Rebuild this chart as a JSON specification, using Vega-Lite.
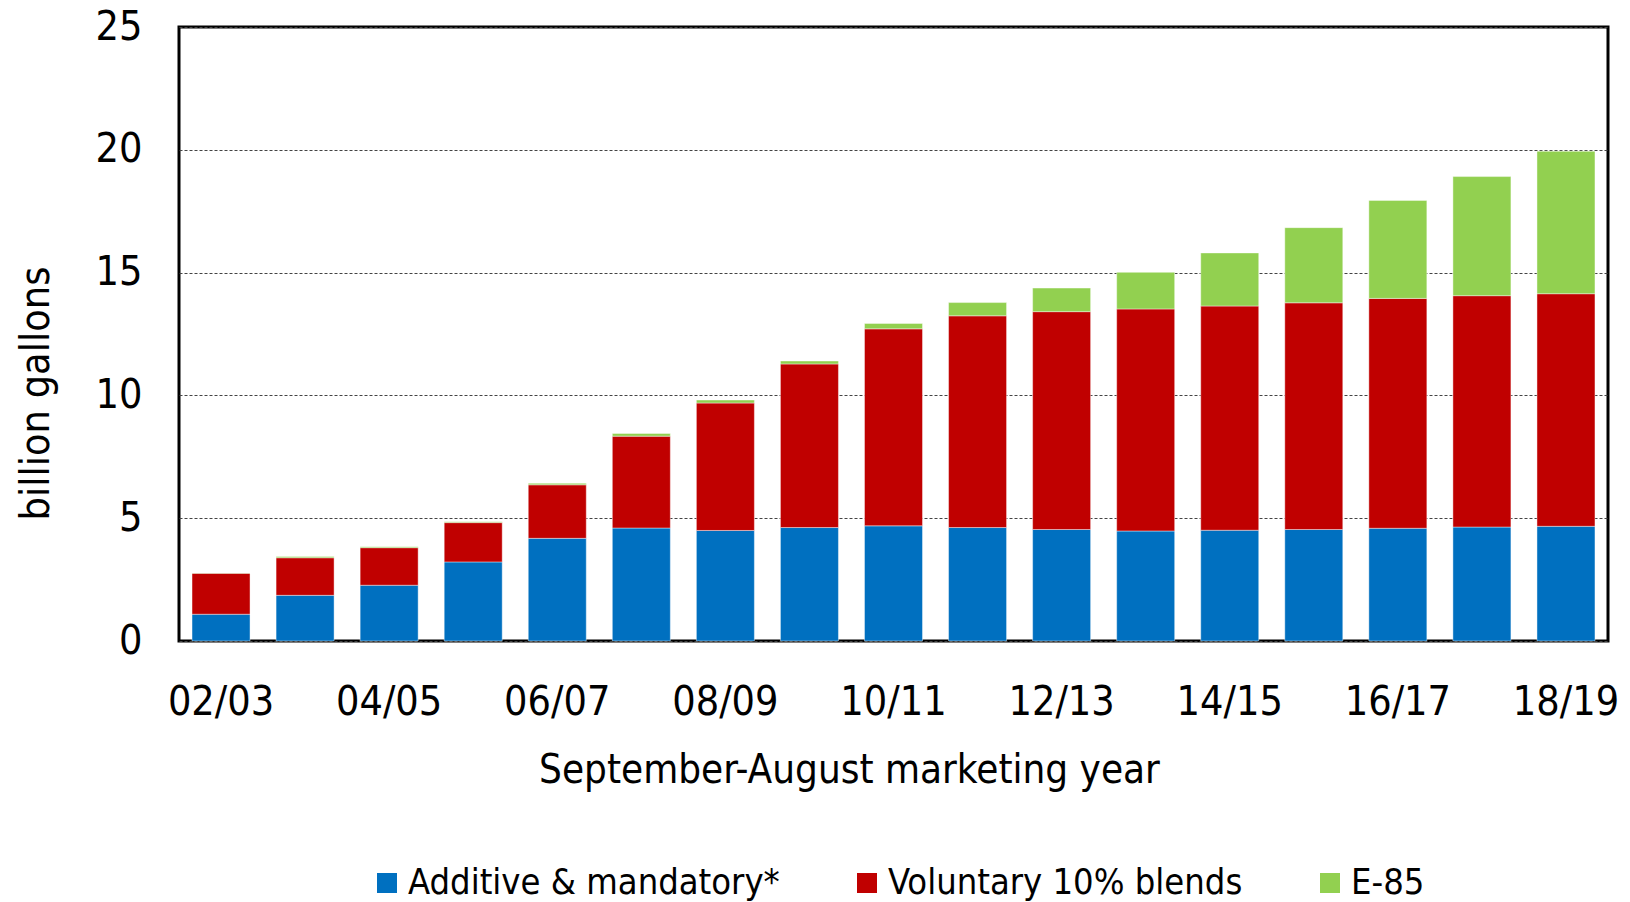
{
  "$schema": "https://vega.github.io/schema/vega-lite/v6.json",
  "autosize": {"type": "none"},
  "padding": {"left": 179, "top": 27, "right": 22, "bottom": 261},
  "width": 1429,
  "height": 614,
  "background": "white",
  "config": {
    "font": "DejaVu Sans Condensed",
    "view": {"stroke": "black", "strokeWidth": 3}
  },
  "data": {
    "values": [
      {"year": "02/03", "type": "Additive & mandatory*", "value": 1.09},
      {"year": "02/03", "type": "Voluntary 10% blends", "value": 1.67},
      {"year": "02/03", "type": "E-85", "value": 0.01},
      {"year": "03/04", "type": "Additive & mandatory*", "value": 1.86},
      {"year": "03/04", "type": "Voluntary 10% blends", "value": 1.53},
      {"year": "03/04", "type": "E-85", "value": 0.05},
      {"year": "04/05", "type": "Additive & mandatory*", "value": 2.27},
      {"year": "04/05", "type": "Voluntary 10% blends", "value": 1.53},
      {"year": "04/05", "type": "E-85", "value": 0.04},
      {"year": "05/06", "type": "Additive & mandatory*", "value": 3.22},
      {"year": "05/06", "type": "Voluntary 10% blends", "value": 1.6},
      {"year": "05/06", "type": "E-85", "value": 0.04},
      {"year": "06/07", "type": "Additive & mandatory*", "value": 4.18},
      {"year": "06/07", "type": "Voluntary 10% blends", "value": 2.18},
      {"year": "06/07", "type": "E-85", "value": 0.06},
      {"year": "07/08", "type": "Additive & mandatory*", "value": 4.6},
      {"year": "07/08", "type": "Voluntary 10% blends", "value": 3.74},
      {"year": "07/08", "type": "E-85", "value": 0.11},
      {"year": "08/09", "type": "Additive & mandatory*", "value": 4.5},
      {"year": "08/09", "type": "Voluntary 10% blends", "value": 5.19},
      {"year": "08/09", "type": "E-85", "value": 0.12},
      {"year": "09/10", "type": "Additive & mandatory*", "value": 4.62},
      {"year": "09/10", "type": "Voluntary 10% blends", "value": 6.66},
      {"year": "09/10", "type": "E-85", "value": 0.12},
      {"year": "10/11", "type": "Additive & mandatory*", "value": 4.69},
      {"year": "10/11", "type": "Voluntary 10% blends", "value": 8.02},
      {"year": "10/11", "type": "E-85", "value": 0.22},
      {"year": "11/12", "type": "Additive & mandatory*", "value": 4.62},
      {"year": "11/12", "type": "Voluntary 10% blends", "value": 8.62},
      {"year": "11/12", "type": "E-85", "value": 0.54},
      {"year": "12/13", "type": "Additive & mandatory*", "value": 4.54},
      {"year": "12/13", "type": "Voluntary 10% blends", "value": 8.87},
      {"year": "12/13", "type": "E-85", "value": 0.96},
      {"year": "13/14", "type": "Additive & mandatory*", "value": 4.48},
      {"year": "13/14", "type": "Voluntary 10% blends", "value": 9.04},
      {"year": "13/14", "type": "E-85", "value": 1.49},
      {"year": "14/15", "type": "Additive & mandatory*", "value": 4.51},
      {"year": "14/15", "type": "Voluntary 10% blends", "value": 9.13},
      {"year": "14/15", "type": "E-85", "value": 2.16},
      {"year": "15/16", "type": "Additive & mandatory*", "value": 4.54},
      {"year": "15/16", "type": "Voluntary 10% blends", "value": 9.23},
      {"year": "15/16", "type": "E-85", "value": 3.06},
      {"year": "16/17", "type": "Additive & mandatory*", "value": 4.59},
      {"year": "16/17", "type": "Voluntary 10% blends", "value": 9.36},
      {"year": "16/17", "type": "E-85", "value": 3.99},
      {"year": "17/18", "type": "Additive & mandatory*", "value": 4.64},
      {"year": "17/18", "type": "Voluntary 10% blends", "value": 9.42},
      {"year": "17/18", "type": "E-85", "value": 4.85},
      {"year": "18/19", "type": "Additive & mandatory*", "value": 4.67},
      {"year": "18/19", "type": "Voluntary 10% blends", "value": 9.47},
      {"year": "18/19", "type": "E-85", "value": 5.8}
    ]
  },
  "transform": [
    {"calculate": "datum.type === 'Additive & mandatory*' ? 0 : (datum.type === 'Voluntary 10% blends' ? 1 : 2)", "as": "ord"}
  ],
  "mark": {"type": "bar", "stroke": "white", "strokeWidth": 0.6, "strokeOpacity": 0.7},
  "encoding": {
    "x": {
      "field": "year",
      "type": "nominal",
      "sort": null,
      "scale": {"paddingInner": 0.31, "paddingOuter": 0.155},
      "axis": {
        "title": "September-August marketing year",
        "titleFontSize": 40,
        "titleFontWeight": "normal",
        "titleColor": "black",
        "titlePadding": 28,
        "titleX": 670,
        "titleAlign": "center",
        "labelAngle": 0,
        "labelFontSize": 41,
        "labelColor": "black",
        "labelPadding": 41,
        "ticks": false,
        "domain": false,
        "values": ["02/03", "04/05", "06/07", "08/09", "10/11", "12/13", "14/15", "16/17", "18/19"]
      }
    },
    "y": {
      "field": "value",
      "type": "quantitative",
      "stack": "zero",
      "scale": {"domain": [0, 25], "nice": false},
      "axis": {
        "title": "billion gallons",
        "titleFontSize": 41,
        "titleFontWeight": "normal",
        "titleColor": "black",
        "titlePadding": 38,
        "titleY": 366,
        "titleAlign": "center",
        "values": [0, 5, 10, 15, 20, 25],
        "labelFontSize": 41,
        "labelColor": "black",
        "labelPadding": 37,
        "ticks": false,
        "domain": false,
        "grid": true,
        "gridColor": "#444444",
        "gridDash": [3, 2],
        "gridWidth": 1
      }
    },
    "color": {
      "field": "type",
      "type": "nominal",
      "scale": {
        "domain": ["Additive & mandatory*", "Voluntary 10% blends", "E-85"],
        "range": ["#0070C0", "#C00000", "#92D050"]
      },
      "legend": {
        "title": null,
        "orient": "none",
        "direction": "horizontal",
        "legendX": 190,
        "legendY": 838,
        "symbolType": "square",
        "symbolSize": 400,
        "symbolStrokeWidth": 0,
        "labelFontSize": 36,
        "labelColor": "black",
        "labelLimit": 600,
        "columnPadding": 69,
        "labelOffset": 3
      }
    },
    "order": {"field": "ord", "type": "quantitative"}
  }
}
